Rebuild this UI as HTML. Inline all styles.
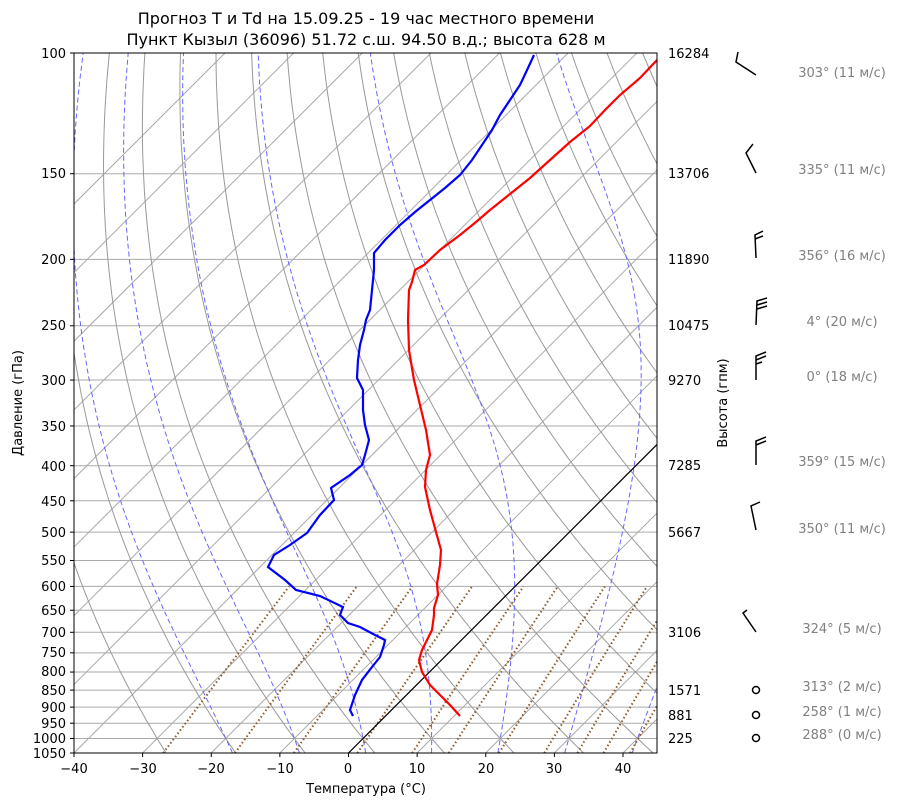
<!DOCTYPE html>
<html><head><meta charset="utf-8"><style>
body{margin:0;background:#fff;font-family:"Liberation Sans","DejaVu Sans",sans-serif}
svg text{font-family:"DejaVu Sans","Liberation Sans",sans-serif}
</style></head><body>
<svg id="s" width="900" height="806" xmlns="http://www.w3.org/2000/svg" style="position:absolute;left:0;top:0">
<defs><clipPath id="c"><rect x="74" y="53" width="583" height="700"/></clipPath></defs>
<rect width="900" height="806" fill="#fff"/>
<g id="bg" clip-path="url(#c)"></g>
<g clip-path="url(#c)">
<line x1="348.5" y1="753" x2="680" y2="421.5" stroke="#000" stroke-width="1.2"/>
<polyline fill="none" stroke="#f00" stroke-width="2.2" points="460,716 450,705 440,695 430,685 422,672 419,660 422,650 432,630 434,615 434,608 438,595 437,584 440,565 441,550 436,532 430,510 425,487 426,470 430,455 426,430 420,405 414,380 409,350 408,320 409,290 412,282 415,270 424,265 440,250 460,235 476,222 490,210 510,194 530,178 550,160 570,142 590,126 605,110 620,95 640,78 657,60"/>
<polyline fill="none" stroke="#00f" stroke-width="2.2" points="353,716 350,710 355,695 362,680 372,667 380,657 384,645 385,640 375,635 360,627 348,623 340,615 343,607 320,596 296,590 285,580 268,567 274,555 290,545 307,533 320,515 334,500 331,488 350,475 362,465 365,455 369,440 365,425 363,410 363,390 357,378 358,360 360,345 364,330 366,320 370,310 372,290 374,270 374,253 385,240 400,225 415,212 430,200 445,188 460,175 472,160 482,145 492,130 500,115 510,100 520,85 528,68 534,55"/>
</g>
<rect x="74" y="53" width="583" height="700" fill="none" stroke="#000" stroke-width="1"/>
<g id="ax" font-size="13" fill="#000"></g>
<text x="366" y="24" font-size="16" text-anchor="middle">Прогноз T и Td на 15.09.25 - 19 час местного времени</text>
<text x="366" y="45" font-size="16" text-anchor="middle">Пункт Кызыл (36096) 51.72 с.ш. 94.50 в.д.; высота 628 м</text>
<text x="366" y="793" font-size="13" text-anchor="middle">Температура (°C)</text>
<text transform="translate(22,403) rotate(-90)" font-size="13" text-anchor="middle">Давление (гПа)</text>
<text transform="translate(727,403) rotate(-90)" font-size="13" text-anchor="middle">Высота (гпм)</text>
<g font-size="13" fill="#000">
<text x="668" y="58">16284</text><text x="668" y="178">13706</text><text x="668" y="264">11890</text>
<text x="668" y="330">10475</text><text x="668" y="385">9270</text><text x="668" y="470">7285</text>
<text x="668" y="537">5667</text><text x="668" y="637">3106</text><text x="668" y="695">1571</text>
<text x="668" y="720">881</text><text x="668" y="743">225</text>
</g>
<g font-size="13" fill="#808080" text-anchor="middle">
<text x="842" y="77">303° (11 м/с)</text><text x="842" y="174">335° (11 м/с)</text>
<text x="842" y="260">356° (16 м/с)</text><text x="842" y="326">4° (20 м/с)</text>
<text x="842" y="381">0° (18 м/с)</text><text x="842" y="466">359° (15 м/с)</text>
<text x="842" y="533">350° (11 м/с)</text><text x="842" y="633">324° (5 м/с)</text>
<text x="842" y="691">313° (2 м/с)</text><text x="842" y="716">258° (1 м/с)</text>
<text x="842" y="739">288° (0 м/с)</text>
</g>
<g stroke="#000" stroke-width="1.5" fill="none">
<polyline points="756,75 736,62 738,52"/>
<polyline points="756,173 746,153 753,144"/>
<path d="M756,258 L755,235 L763,231 M755,239 L763,236"/>
<path d="M756,325 L757,301 L767,298 M757,305 L767,302 M757,309 L767,306"/>
<path d="M756,380 L756,356 L766,352 M756,360 L766,356 M756,364 L762,362"/>
<path d="M756,465 L756,441 L766,437 M756,445 L766,441"/>
<polyline points="756,530 751,506 760,502"/>
<polyline points="756,632 743,613 747,610"/>
<circle cx="756" cy="690" r="3.5"/><circle cx="756" cy="715" r="3.5"/><circle cx="756" cy="738" r="3.5"/>
</g>
<g font-size="13" text-anchor="end">
<text x="66" y="58">100</text><text x="66" y="178">150</text><text x="66" y="264">200</text><text x="66" y="330">250</text><text x="66" y="385">300</text><text x="66" y="431">350</text><text x="66" y="471">400</text><text x="66" y="506">450</text><text x="66" y="537">500</text><text x="66" y="565">550</text><text x="66" y="591">600</text><text x="66" y="615">650</text><text x="66" y="637">700</text><text x="66" y="657">750</text><text x="66" y="676">800</text><text x="66" y="695">850</text><text x="66" y="712">900</text><text x="66" y="728">950</text><text x="66" y="743">1000</text><text x="66" y="758">1050</text>
</g>
<g font-size="13" text-anchor="middle">
<text x="74" y="773">−40</text><text x="143" y="773">−30</text><text x="211" y="773">−20</text><text x="280" y="773">−10</text><text x="348" y="773">0</text><text x="417" y="773">10</text><text x="486" y="773">20</text><text x="554" y="773">30</text><text x="623" y="773">40</text>
</g>
</svg>
<script>
const NS="http://www.w3.org/2000/svg";
const K=297.7,S=6.8625;
const Y=p=>53+K*Math.log(p/100);
const X=(t,p)=>348.5+S*t+(753-Y(p));
const bg=document.getElementById('bg'),ax=document.getElementById('ax');
function el(tag,a,par){const e=document.createElementNS(NS,tag);for(const k in a)e.setAttribute(k,a[k]);par.appendChild(e);return e;}
function path(pts,st){let d='';pts.forEach((q,i)=>{d+=(i?'L':'M')+q[0].toFixed(1)+','+q[1].toFixed(1)});el('path',Object.assign({d,fill:'none'},st),bg);}
const P=[100,150,200,250,300,350,400,450,500,550,600,650,700,750,800,850,900,950,1000,1050];
P.forEach(p=>{el('line',{x1:74,x2:657,y1:Y(p),y2:Y(p),stroke:'#aaa','stroke-width':1},bg);
 el('line',{x1:70,x2:74,y1:Y(p),y2:Y(p),stroke:'#000'},ax);});
for(let t=-120;t<=50;t+=10){path([[X(t,1050),Y(1050)],[X(t,100),Y(100)]],{stroke:'#aaa','stroke-width':1});}
for(let t=-40;t<=40;t+=10){const x=348.5+S*t;el('line',{x1:x,x2:x,y1:753,y2:757,stroke:'#000'},ax);}
const ps=[];for(let p=1050;p>=100;p-=5)ps.push(p);
for(let th=-30;th<=250;th+=10){path(ps.map(p=>{const T=(th+273.15)*Math.pow(p/1000,0.2857)-273.15;return[X(T,p),Y(p)]}),{stroke:'#999','stroke-width':1});}
function es(t){return 6.112*Math.exp(17.67*t/(t+243.5));}
function dTdp(T,p){const tc=T-273.15,e=es(tc),rs=0.622*e/(p-e),Rd=287.04,Lv=2.501e6,Cp=1005.7;return (1/p)*(Rd*T+Lv*rs)/(Cp+Lv*Lv*rs*0.622/(Rd*T*T));}
const t0s=[-20,-10,0,10,20,30,40];
t0s.forEach(t0=>{let pts=[];let T=t0+273.15;for(let p=1000;p>=100;p-=2){pts.push([X(T-273.15,p),Y(p)]);T-=dTdp(T,p)*2;}
 T=t0+273.15;let dn=[];for(let p=1000;p<=1050;p+=2){dn.push([X(T-273.15,p),Y(p)]);T+=dTdp(T,p)*2;}
 path(dn.reverse().concat(pts),{stroke:'#66f','stroke-width':1,'stroke-dasharray':'5,3'});});
[0.0004,0.001,0.002,0.004,0.007,0.01,0.016,0.024,0.032,0.04,0.05].forEach(w=>{const pts=[];for(let p=1050;p>=600;p-=10){const e=w*p/(0.622+w),l=Math.log(e/6.112),t=243.5*l/(17.67-l);pts.push([X(t,p),Y(p)]);}
 path(pts,{stroke:'#8b5a2b','stroke-width':2,'stroke-dasharray':'1.5,2.5'});});
</script>
</body></html>
